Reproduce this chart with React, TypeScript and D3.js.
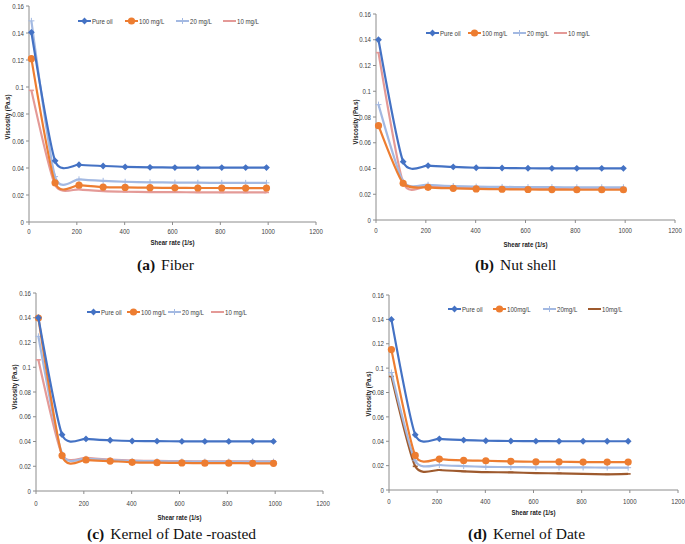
import React from "react";
import * as d3 from "d3";

// ---------- data ----------
const SHEAR_RATE = [10, 109, 209, 310, 402, 506, 610, 706, 806, 906, 993];
const X_TICKS = [0, 200, 400, 600, 800, 1000, 1200];
const Y_TICKS = [0, 0.02, 0.04, 0.06, 0.08, 0.1, 0.12, 0.14, 0.16];
const Y_TICK_LABELS = ["0", "0.02", "0.04", "0.06", "0.08", "0.1", "0.12", "0.14", "0.16"];

const FIBER_PURE = [0.1405, 0.0453, 0.0424, 0.0415, 0.0408, 0.0405, 0.0403, 0.0403, 0.0403, 0.0403, 0.0403];
const FIBER_100 = [0.121, 0.029, 0.0273, 0.0259, 0.0256, 0.0254, 0.0253, 0.0252, 0.0252, 0.0251, 0.0251];
const FIBER_20 = [0.149, 0.0336, 0.0316, 0.0305, 0.0298, 0.0294, 0.0292, 0.0291, 0.029, 0.029, 0.029];
const FIBER_10 = [0.0975, 0.0275, 0.0242, 0.0229, 0.0224, 0.0222, 0.0221, 0.022, 0.0219, 0.0219, 0.0219];

const NUT_PURE = [0.14, 0.0453, 0.0422, 0.0412, 0.0406, 0.0404, 0.0402, 0.0401, 0.0401, 0.0401, 0.0401];
const NUT_100 = [0.0733, 0.0285, 0.0254, 0.0246, 0.0241, 0.0239, 0.0237, 0.0236, 0.0235, 0.0235, 0.0235];
const NUT_20 = [0.0896, 0.0298, 0.0274, 0.0264, 0.0259, 0.0257, 0.0255, 0.0255, 0.0254, 0.0254, 0.0254];
const NUT_10 = [0.13, 0.029, 0.0265, 0.0256, 0.0251, 0.0249, 0.0247, 0.0246, 0.0246, 0.0246, 0.0246];

const ROAST_PURE = [0.14, 0.0455, 0.0421, 0.041, 0.0404, 0.0403, 0.0401, 0.0401, 0.0401, 0.0401, 0.0401];
const ROAST_100 = [0.1398, 0.0286, 0.0251, 0.0242, 0.0232, 0.0229, 0.0227, 0.0225, 0.0225, 0.0224, 0.0224];
const ROAST_20 = [0.125, 0.03, 0.0261, 0.025, 0.0243, 0.0241, 0.0239, 0.0238, 0.0238, 0.0237, 0.0237];
const ROAST_10 = [0.106, 0.0294, 0.0267, 0.0253, 0.0245, 0.0243, 0.0241, 0.024, 0.024, 0.024, 0.024];

const DATE_PURE = [0.14, 0.0453, 0.042, 0.041, 0.0404, 0.0402, 0.0401, 0.04, 0.04, 0.04, 0.04];
const DATE_100 = [0.1152, 0.0284, 0.0254, 0.0243, 0.024, 0.0235, 0.0232, 0.0232, 0.0229, 0.0229, 0.0229];
const DATE_20 = [0.0964, 0.024, 0.0205, 0.0196, 0.019, 0.0188, 0.0186, 0.0185, 0.0185, 0.0184, 0.0183];
const DATE_10 = [0.0931, 0.0194, 0.0164, 0.0153, 0.0146, 0.0145, 0.0138, 0.0137, 0.0132, 0.0129, 0.0132];

const SERIES_NAMES_A = ["Pure oil", "100 mg/L", "20 mg/L", "10 mg/L"];
const SERIES_NAMES_D = ["Pure oil", "100mg/L", "20mg/L", "10mg/L"];
const CAPTION_LETTERS = ["(a)", "(b)", "(c)", "(d)"];
const CAPTION_TEXTS = ["Fiber", "Nut shell", "Kernel of Date -roasted", "Kernel of Date"];

// ---------- styles ----------
const BLUE = "#4472C4";
const ORANGE = "#ED7D31";
const LIGHTBLUE = "#A3B9E2";
const PINK = "#E49A97";
const BROWN = "#9E5A2E";
const AXIS = "#8C8C8C";
const TXT = "#404040";
const FONT = "'Liberation Sans', Arial, sans-serif";
const SERIF = "'Liberation Serif', 'Times New Roman', serif";
const NARROW = 0.8;

type Marker = "diamond" | "circle" | "plus" | "dash";
interface SeriesDef { name: string; values: number[]; color: string; marker: Marker; width: number; }
interface Layout {
  ox: number; oy: number; w: number; h: number;
  yTickRight: number; xTickY: number; xTitleY: number; yTitleX: number; yTitleY: number;
  legendY: number; legendX: number[];
  capX: number; capY: number;
}

const LAYOUTS: Layout[] = [
  { ox: 29, oy: 222, w: 287, h: 216, yTickRight: 24, xTickY: 231, xTitleY: 242, yTitleX: 7, yTitleY: 117, legendY: 21, legendX: [78, 125, 176, 223], capX: 137, capY: 270 },
  { ox: 376, oy: 220, w: 299, h: 206, yTickRight: 371, xTickY: 230, xTitleY: 244, yTitleX: 355, yTitleY: 122, legendY: 33, legendX: [426, 468, 513, 554], capX: 475, capY: 270 },
  { ox: 36, oy: 491, w: 287, h: 198, yTickRight: 31, xTickY: 503, xTitleY: 517, yTitleX: 14, yTitleY: 387, legendY: 312, legendX: [87, 127, 168, 211], capX: 87, capY: 539 },
  { ox: 389, oy: 490, w: 289, h: 195, yTickRight: 384, xTickY: 501, xTitleY: 512, yTitleX: 368, yTitleY: 394, legendY: 309, legendX: [448, 493, 543, 588], capX: 468, capY: 539 },
];

function makeSeries(names: string[], vals: number[][], tenColor: string): SeriesDef[] {
  return [
    { name: names[0], values: vals[0], color: BLUE, marker: "diamond", width: 2.2 },
    { name: names[1], values: vals[1], color: ORANGE, marker: "circle", width: 2.2 },
    { name: names[2], values: vals[2], color: LIGHTBLUE, marker: "plus", width: 2.2 },
    { name: names[3], values: vals[3], color: tenColor, marker: "dash", width: 2.2 },
  ];
}

const PANEL_SERIES: SeriesDef[][] = [
  makeSeries(SERIES_NAMES_A, [FIBER_PURE, FIBER_100, FIBER_20, FIBER_10], PINK),
  makeSeries(SERIES_NAMES_A, [NUT_PURE, NUT_100, NUT_20, NUT_10], PINK),
  makeSeries(SERIES_NAMES_A, [ROAST_PURE, ROAST_100, ROAST_20, ROAST_10], PINK),
  makeSeries(SERIES_NAMES_D, [DATE_PURE, DATE_100, DATE_20, DATE_10], BROWN),
];

function NText({ x, y, anchor = "start", rotate = 0, bold = false, children }: any) {
  return (
    <text
      transform={`translate(${x},${y}) rotate(${rotate}) scale(${NARROW},1)`}
      dy="0.35em"
      textAnchor={anchor}
      fontSize={7.6}
      fontWeight={bold ? "bold" : "normal"}
      fontFamily={FONT}
      fill={bold ? "#222" : TXT}
    >
      {children}
    </text>
  );
}

function MarkerShape({ type, x, y, color }: { type: Marker; x: number; y: number; color: string }) {
  if (type === "diamond") {
    const s = 3.4;
    return <path d={`M${x},${y - s}L${x + s},${y}L${x},${y + s}L${x - s},${y}Z`} fill={color} />;
  }
  if (type === "circle") return <circle cx={x} cy={y} r={3.6} fill={color} />;
  if (type === "plus") {
    const s = 3;
    return <path d={`M${x - s},${y}H${x + s}M${x},${y - s}V${y + s}`} stroke={color} strokeWidth={1} fill="none" />;
  }
  const s = 2.5;
  return <path d={`M${x - s},${y}H${x + s}`} stroke={color} strokeWidth={1.6} fill="none" />;
}

function Panel({ layout, series, idx }: { layout: Layout; series: SeriesDef[]; idx: number }) {
  const x = d3.scaleLinear().domain([0, 1200]).range([layout.ox, layout.ox + layout.w]);
  const y = d3.scaleLinear().domain([0, 0.16]).range([layout.oy, layout.oy - layout.h]);
  const line = d3
    .line<[number, number]>()
    .x((d) => x(d[0]))
    .y((d) => y(d[1]))
    .curve(d3.curveCardinal.tension(0.35));
  return (
    <g>
      <line x1={layout.ox} x2={layout.ox} y1={layout.oy} y2={layout.oy - layout.h} stroke={AXIS} strokeWidth={1} />
      <line x1={layout.ox} x2={layout.ox + layout.w} y1={layout.oy} y2={layout.oy} stroke={AXIS} strokeWidth={1} />
      {Y_TICKS.map((t, i) => (
        <g key={"y" + i}>
          <line x1={layout.ox - 3} x2={layout.ox} y1={y(t)} y2={y(t)} stroke={AXIS} />
          <NText x={layout.yTickRight} y={y(t)} anchor="end">{Y_TICK_LABELS[i]}</NText>
        </g>
      ))}
      {X_TICKS.map((t, i) => (
        <g key={"x" + i}>
          <line x1={x(t)} x2={x(t)} y1={layout.oy} y2={layout.oy + 3} stroke={AXIS} />
          <NText x={x(t)} y={layout.xTickY} anchor="middle">{t}</NText>
        </g>
      ))}
      <NText x={x(600)} y={layout.xTitleY} anchor="middle" bold>Shear rate (1/s)</NText>
      <NText x={layout.yTitleX} y={layout.yTitleY} anchor="middle" rotate={-90} bold>Viscosity (Pa.s)</NText>
      {[...series].reverse().map((s) => {
        const pts: [number, number][] = SHEAR_RATE.map((r, i) => [r, s.values[i]]);
        return (
          <g key={s.name}>
            <path d={line(pts) || ""} fill="none" stroke={s.color} strokeWidth={s.width} />
            {pts.map((p, i) => (
              <MarkerShape key={i} type={s.marker} x={x(p[0])} y={y(p[1])} color={s.color} />
            ))}
          </g>
        );
      })}
      {series.map((s, i) => {
        const lx = layout.legendX[i];
        const ly = layout.legendY;
        return (
          <g key={"lg" + i}>
            <line x1={lx} x2={lx + 13} y1={ly} y2={ly} stroke={s.color} strokeWidth={2} />
            <MarkerShape type={s.marker} x={lx + 6.5} y={ly} color={s.color} />
            <NText x={lx + 14} y={ly}>{s.name}</NText>
          </g>
        );
      })}
      <text x={layout.capX} y={layout.capY} fontFamily={SERIF} fontSize={15.5} fill="#111">
        <tspan fontWeight="bold">{CAPTION_LETTERS[idx]}</tspan>
        <tspan dx={6}>{CAPTION_TEXTS[idx]}</tspan>
      </text>
    </g>
  );
}

export default function App() {
  return (
    <svg width={685} height={544} style={{ position: "absolute", left: 0, top: 0, background: "#fff" }}>
      <rect width={685} height={544} fill="#fff" />
      {LAYOUTS.map((l, i) => (
        <Panel key={i} layout={l} series={PANEL_SERIES[i]} idx={i} />
      ))}
    </svg>
  );
}
